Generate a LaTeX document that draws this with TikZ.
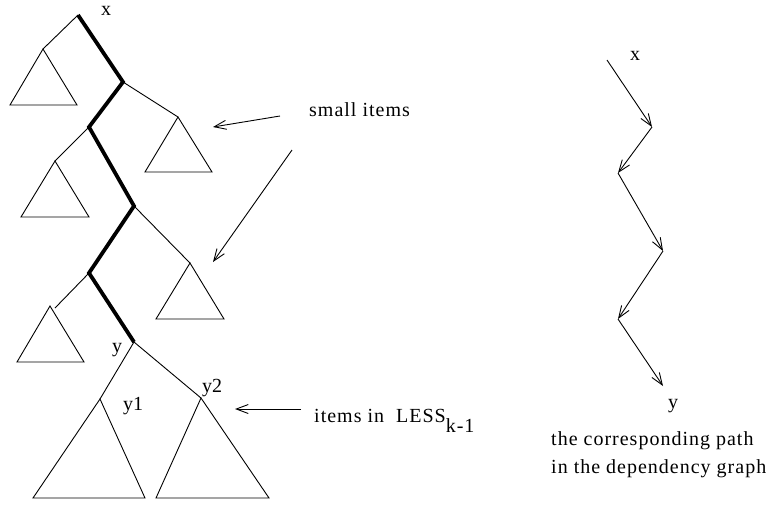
\documentclass[tikz,border=0pt]{standalone}
\usepackage{fontspec}
\setmainfont{Liberation Serif}
\newfontfamily\labelfont{Liberation Serif}
\newfontfamily\spacedfont[LetterSpace=5]{Liberation Serif}
\usetikzlibrary{arrows.meta}
\begin{document}
\begin{tikzpicture}[x=1pt,y=-1pt,
  thinline/.style={line width=0.9pt},
  heavy/.style={line width=3.8pt,line join=miter,line cap=butt},
  pointer/.style={line width=0.9pt,-{Straight Barb[length=12pt,width=9pt,line width=0.9pt]}},
  lbl/.style={font=\labelfont\fontsize{20}{24}\selectfont,inner sep=0pt},
  caption/.style={font=\spacedfont\fontsize{20}{24}\selectfont,inner sep=0pt,anchor=base west},
  subtree/.style={thinline,line join=miter}]
\useasboundingbox (0,0) rectangle (775,504);

% tree vertices along the search path
\coordinate (x)  at (78,15);
\coordinate (p1) at (123,82);
\coordinate (p2) at (89,127);
\coordinate (p3) at (134,206);
\coordinate (p4) at (89,273);
\coordinate (y)  at (134,342);
% side children
\coordinate (c0) at (43,49);
\coordinate (c1) at (178,117);
\coordinate (c2) at (55,161);
\coordinate (c3) at (190,263);
\coordinate (c4) at (55,308);
\coordinate (y1) at (100,399);
\coordinate (y2) at (201,398);

% thin edges to side subtrees
\draw[thinline] (x) -- (c0);
\draw[thinline] (p1) -- (c1);
\draw[thinline] (p2) -- (c2);
\draw[thinline] (p3) -- (c3);
\draw[thinline] (p4) -- (c4);
\draw[thinline] (y) -- (y1);
\draw[thinline] (y) -- (y2);

% small subtrees
\draw[subtree] (c0) -- (77,105) -- (10,105) -- cycle;
\draw[subtree] (c1) -- (212,172) -- (145,172) -- cycle;
\draw[subtree] (c2) -- (89,217) -- (21,217) -- cycle;
\draw[subtree] (c3) -- (224,319) -- (156,319) -- cycle;
\draw[subtree] (50,306) -- (84,362) -- (17,362) -- cycle;
% subtrees below y
\draw[subtree] (y1) -- (145,498) -- (33,498) -- cycle;
\draw[subtree] (y2) -- (269,498) -- (156,498) -- cycle;

% the path from x to y
\draw[heavy] (x) -- (p1) -- (p2) -- (p3) -- (p4) -- (y);

% vertex labels
\node[lbl,anchor=base] (lx)  at (106,15)  {x};
\node[lbl,anchor=base] (ly)  at (117,352) {y};
\node[lbl,anchor=base] (ly1) at (133,410) {y1};
\node[lbl,anchor=base] (ly2) at (212,392) {y2};

% annotations
\node[caption] (small) at (309,116) {small items};
\coordinate (s1a) at (280,116);
\coordinate (s1b) at (213,127);
\coordinate (s2a) at (292,150);
\coordinate (s2b) at (213,262);
\draw[pointer] (s1a) -- (s1b);
\draw[pointer] (s2a) -- (s2b);

\node[caption] (less) at (314,422) {items in\ \ LESS\raisebox{-10pt}{k-1}};
\coordinate (l1a) at (301,409);
\coordinate (l1b) at (235,409);
\draw[pointer] (l1a) -- (l1b);

% the corresponding path in the dependency graph
\coordinate (d0) at (607,60);
\coordinate (d1) at (652,127);
\coordinate (d2) at (618,173);
\coordinate (d3) at (663,251);
\coordinate (d4) at (618,319);
\coordinate (d5) at (663,386);
\draw[pointer] (d0) -- (d1);
\draw[pointer] (d1) -- (d2);
\draw[pointer] (d2) -- (d3);
\draw[pointer] (d3) -- (d4);
\draw[pointer] (d4) -- (d5);
\node[lbl,anchor=base] (dx) at (635,60) {x};
\node[lbl,anchor=base] (dy) at (673,408) {y};
\node[caption] (cap1) at (551,445) {the corresponding path};
\node[caption] (cap2) at (551,473) {in the dependency graph};
\end{tikzpicture}
\end{document}
